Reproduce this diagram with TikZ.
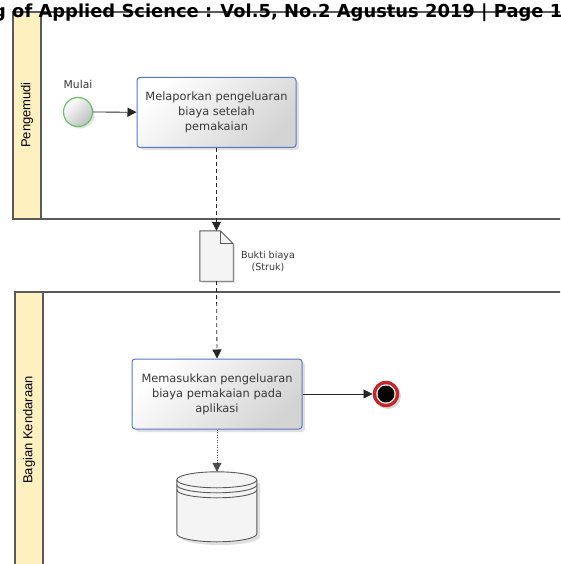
\documentclass[tikz,border=0pt]{standalone}
\usepackage{fontspec}
\setmainfont{DejaVu Sans}
\newfontfamily\dvfont{DejaVu Sans}
\newfontfamily\lsfont{Liberation Sans}
\usetikzlibrary{arrows.meta}
\definecolor{laneline}{HTML}{5A5A5A}
\definecolor{laneband}{HTML}{FFF1BF}
\definecolor{taskblue}{HTML}{5577C8}
\definecolor{txt}{HTML}{383838}
\definecolor{startgreen}{HTML}{66C266}
\definecolor{endred}{HTML}{C4262B}
\definecolor{docfill}{HTML}{F4F4F4}
\tikzset{
  lanebox/.style={draw=laneline, line width=1.5pt},
  bandbox/.style={draw=laneline, line width=1.5pt, fill=laneband},
  lanelabel/.style={rotate=90, font=\lsfont\fontsize{13}{13}\selectfont, text=black},
  taskbox/.style={draw=taskblue, line width=1pt, rounded corners=3pt,
    top color=white, bottom color=black!17, shading angle=45,
    minimum width=#1, minimum height=70pt, align=center, inner sep=0pt,
    font=\dvfont\fontsize{11.4}{15}\selectfont, text=txt},
  shadowbox/.style={fill=black, opacity=0.12, rounded corners=3pt},
  flow/.style={draw=black!85, line width=0.8pt, -{Triangle[length=9pt,width=9pt]}},
  msgflow/.style={draw=black!85, line width=0.8pt, dash pattern=on 4pt off 3pt, -{Triangle[length=9pt,width=9pt]}},
  assoc/.style={draw=black!70, line width=0.8pt, dash pattern=on 1pt off 1.5pt, -{Triangle[length=9pt,width=9pt]}},
  smalltxt/.style={font=\dvfont\fontsize{9.6}{12}\selectfont, text=txt, align=center},
  dbline/.style={draw=laneline, line width=0.9pt},
}
\begin{document}
\begin{tikzpicture}[x=1pt, y=-1pt]
\useasboundingbox (0,0) rectangle (560,564);
\clip (0,0) rectangle (560,564);
% lanes
\fill[white] (0,0) rectangle (560,564);
\draw[lanebox] (13,12) rectangle (620,219);
\draw[bandbox] (13,12) rectangle (41,219);
\draw[lanebox] (15,292) rectangle (620,620);
\draw[bandbox] (15,292) rectangle (43,620);
\node[lanelabel] (lane1) at (27,115) {Pengemudi};
\node[lanelabel] (lane2) at (29,430) {Bagian Kendaraan};
% header
\node[anchor=base west, inner sep=0pt, font=\dvfont\bfseries\fontsize{17.9}{17.9}\selectfont] (header) at (-7,17.5) {g of Applied Science : Vol.5, No.2 Agustus 2019 | Page 1};
% start
\fill[black, opacity=0.12] (80,114) circle (14.5);
\node[circle, draw=startgreen, line width=1.2pt, minimum size=29pt, inner sep=0pt,
  top color=white, bottom color=black!25, shading angle=45] (start) at (78,112) {};
\node[font=\dvfont\fontsize{10.8}{12}\selectfont, text=txt] (mulai) at (78,84) {Mulai};
% task 1
\fill[shadowbox] (140,81) rectangle (299,150);
\node[taskbox=159pt] (t1) at (216.5,112.5) {Melaporkan pengeluaran\\biaya setelah\\pemakaian};
% document
\node[minimum width=33pt, minimum height=50pt, inner sep=0pt] (doc) at (216.5,256) {};
\fill[black, opacity=0.12] ([shift={(2,2)}]doc.north west) -- ([shift={(-11,2)}]doc.north east) -- ([shift={(2,15)}]doc.north east) -- ([shift={(2,2)}]doc.south east) -- ([shift={(2,2)}]doc.south west) -- cycle;
\draw[laneline, line width=0.9pt, fill=docfill] (doc.north west) -- ([xshift=-13pt]doc.north east) -- ([yshift=-13pt]doc.north east) -- (doc.south east) -- (doc.south west) -- cycle;
\draw[laneline, line width=0.9pt] ([xshift=-13pt]doc.north east) |- ([yshift=-13pt]doc.north east);
\node[smalltxt] (doclabel) at (268,261) {Bukti biaya\\(Struk)};
% task 2
\fill[shadowbox] (135,362) rectangle (305,432);
\node[taskbox=170pt] (t2) at (217,394) {Memasukkan pengeluaran\\biaya pemakaian pada\\aplikasi};
% end
\fill[black, opacity=0.15] (388,396) circle (13);
\node[circle, fill=endred, minimum size=26.5pt, inner sep=0pt] (end) at (386,394) {};
\node[circle, fill=white, minimum size=19.5pt, inner sep=0pt] (endw) at (end) {};
\node[circle, fill=black, minimum size=17pt, inner sep=0pt] (endb) at (end) {};
% database
\node[minimum width=80pt, minimum height=70pt, inner sep=0pt] (db) at (217,507) {};
\fill[black, opacity=0.12] (180,483) -- (180,537) arc[start angle=180, end angle=360, x radius=40pt, y radius=8pt] -- (260,483) -- cycle;
\draw[dbline, fill=docfill] ([yshift=-8pt]db.north west) -- ++(0,54) arc[start angle=180, end angle=360, x radius=40pt, y radius=8pt] -- ++(0,-54) arc[start angle=0, end angle=180, x radius=40pt, y radius=8pt] -- cycle;
\draw[dbline] ([yshift=-8pt]db.north west) arc[start angle=180, end angle=360, x radius=40pt, y radius=8pt];
\draw[dbline] ([yshift=-13pt]db.north west) arc[start angle=180, end angle=360, x radius=40pt, y radius=8pt];
\draw[dbline] ([yshift=-18pt]db.north west) arc[start angle=180, end angle=360, x radius=40pt, y radius=8pt];
% connectors
\draw[flow] (start) -- (t1);
\draw[msgflow] (t1.south) -- (doc.north);
\draw[msgflow] (doc.south) -- (t2.north);
\draw[flow] (t2.east) -- (end.west);
\draw[assoc] (t2.south) -- (db.north);
\end{tikzpicture}
\end{document}
